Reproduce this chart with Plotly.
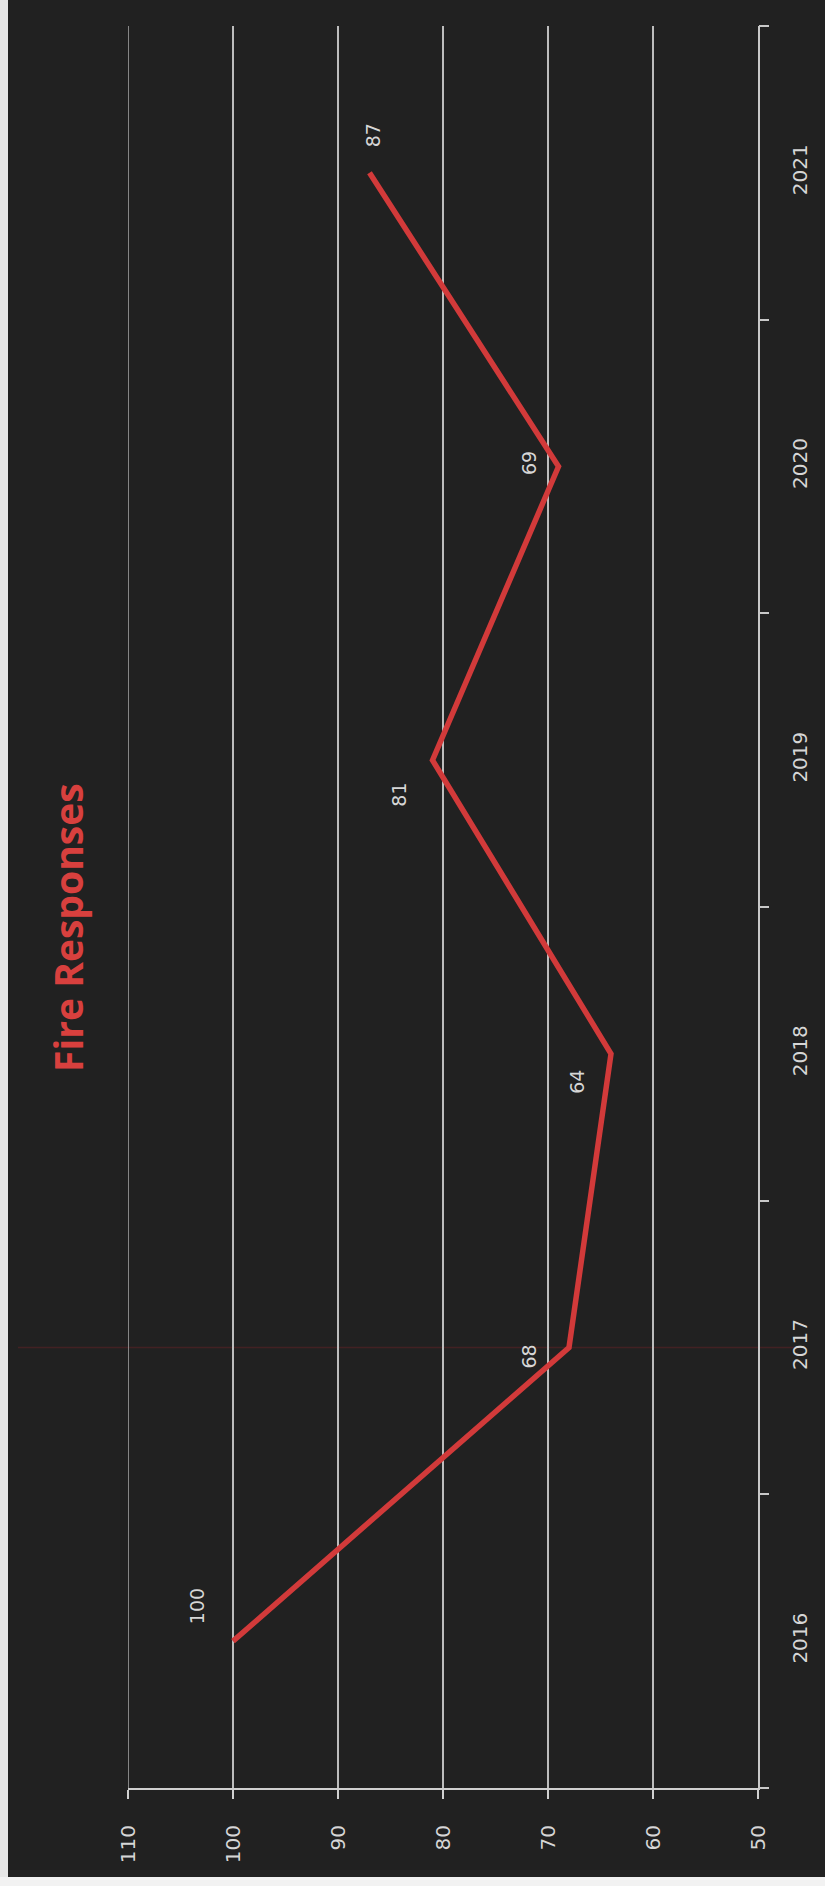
import plotly.graph_objects as go

# Chart data
years = ["2016", "2017", "2018", "2019", "2020", "2021"]
responses = [100, 68, 64, 81, 69, 87]
value_ticks = [50, 60, 70, 80, 90, 100, 110]

# Label offsets (pixels) for each value label, in screen space
label_dx = [-36, -41, -34, -33, -30, 3]
label_dy = [35, -9, -28, -35, 3, 37]

BG = "#212121"
GRID = "#bdbdbd"
LINE_RED = "#d23a3a"
TEXT = "#d6d6d6"

W, H = 825, 1886
L, R, T, B = 128, 67, 26, 98
plot_w = W - L - R
plot_h = H - T - B

fig = go.Figure()

fig.add_trace(go.Scatter(
    x=responses,
    y=list(range(len(years))),
    mode="lines",
    line=dict(color=LINE_RED, width=5.5),
    hoverinfo="skip",
    showlegend=False,
))

annotations = []
for i, (v, dx, dy) in enumerate(zip(responses, label_dx, label_dy)):
    annotations.append(dict(
        x=v, y=i, xref="x", yref="y",
        text=str(v), showarrow=False,
        textangle=-90,
        xshift=dx, yshift=dy,
        font=dict(family="DejaVu Sans", size=19, color=TEXT),
    ))

def px_x(px):
    return (px - L) / plot_w

def px_y(py):
    return (H - B - py) / plot_h

annotations.append(dict(
    x=px_x(67), y=px_y(928), xref="paper", yref="paper",
    xanchor="center", yanchor="middle",
    text="<b>Fire Responses</b>", showarrow=False, textangle=-90,
    font=dict(family="Open Sans", size=39, color="#d8403e"),
))

shapes = [
    # faint reddish streak running across at the 2017 position
    dict(type="line", xref="paper", yref="y",
         x0=px_x(18), x1=px_x(800), y0=1, y1=1,
         line=dict(color="rgba(130,35,40,0.35)", width=1.5), layer="below"),
    # gridline at the top of the value range
    dict(type="line", xref="x", yref="paper",
         x0=110, x1=110, y0=0, y1=1,
         line=dict(color="#a8a8a8", width=1.5), layer="below"),
    # white strips along the left and bottom edges of the page
    dict(type="rect", xref="paper", yref="paper",
         x0=px_x(0), x1=px_x(8), y0=px_y(H), y1=px_y(0),
         fillcolor="#e6e6e6", line=dict(width=0), layer="above"),
    dict(type="rect", xref="paper", yref="paper",
         x0=px_x(0), x1=px_x(W), y0=px_y(H), y1=px_y(1877),
         fillcolor="#f2f2f2", line=dict(width=0), layer="above"),
]

fig.update_layout(
    width=W, height=H,
    margin=dict(l=L, r=R, t=T, b=B, pad=0),
    paper_bgcolor=BG,
    plot_bgcolor="rgba(0,0,0,0)",
    annotations=annotations,
    shapes=shapes,
    showlegend=False,
)

fig.update_xaxes(
    range=[110, 50],
    tickvals=value_ticks,
    ticktext=[str(v) for v in value_ticks],
    tickangle=-90,
    showgrid=True, gridcolor=GRID, gridwidth=1.5,
    zeroline=False,
    showline=True, linecolor="#d0d0d0", linewidth=2,
    ticks="outside", ticklen=9, tickcolor="#d0d0d0", tickwidth=2,
    ticklabelstandoff=18,
    tickfont=dict(family="DejaVu Sans", size=20, color=TEXT),
    side="bottom",
)

fig.update_yaxes(
    range=[-0.5, len(years) - 0.5],
    tickmode="array",
    tickvals=list(range(len(years))),
    ticktext=years,
    side="right",
    tickangle=-90,
    showgrid=False,
    zeroline=False,
    showline=True, linecolor="#c8c8c8", linewidth=2,
    ticks="",
    ticklabelstandoff=23,
    tickfont=dict(family="DejaVu Sans", size=20, color=TEXT),
)

# Tick marks between the year categories on a companion axis
fig.update_layout(yaxis2=dict(
    overlaying="y", side="right", anchor="x",
    range=[-0.5, len(years) - 0.5],
    tickmode="array",
    tickvals=[i + 0.5 for i in range(-1, len(years))],
    ticktext=[""] * (len(years) + 1),
    ticks="outside", ticklen=10, tickcolor="#c8c8c8", tickwidth=2,
    showgrid=False, zeroline=False, showline=False,
))
fig.add_trace(go.Scatter(x=[None], y=[None], yaxis="y2", showlegend=False,
                         hoverinfo="skip"))

fig.write_html("out.html")
